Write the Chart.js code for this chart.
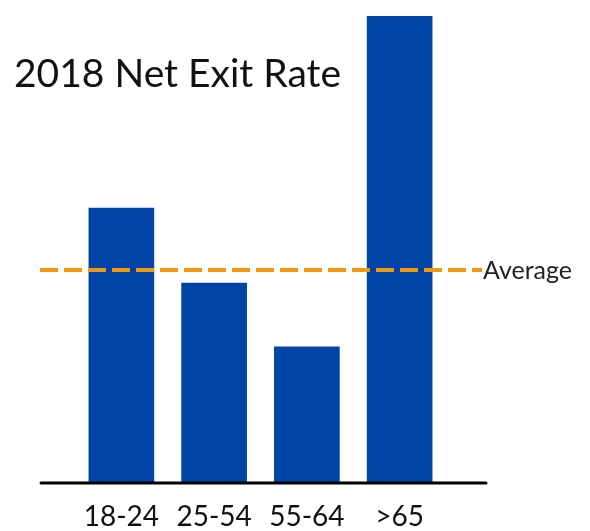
<!DOCTYPE html>
<html>
<head>
<meta charset="utf-8">
<script src="https://cdn.jsdelivr.net/npm/chart.js@4/dist/chart.umd.min.js"></script>
<style>
  html, body { margin: 0; padding: 0; background: #fff; }
  #wrap { width: 590px; height: 531px; position: relative; }
</style>
</head>
<body>
<div id="wrap"><canvas id="exitChart"></canvas></div>
<script>
// Net exit rate by age group
const ageGroups = ['18-24', '25-54', '55-64', '>65'];
const exitRates = [5.88, 4.27, 2.9, 10];
const averageRate = 4.55;
const chartTitle = '2018 Net Exit Rate';

const fontFamily = 'Lato, "Noto Sans", sans-serif';

// Title, zero line and dashed average line drawn on top of the bars
const overlayPlugin = {
  id: 'overlay',
  afterDatasetsDraw(chart) {
    const ctx = chart.ctx;
    const area = chart.chartArea;
    const y = chart.scales.y;

    ctx.save();

    // baseline at zero
    const y0 = y.getPixelForValue(0) + 1;
    ctx.strokeStyle = '#000';
    ctx.lineWidth = 3;
    ctx.lineCap = 'round';
    ctx.beginPath();
    ctx.moveTo(area.left - 34, y0);
    ctx.lineTo(area.right + 40, y0);
    ctx.stroke();

    // average line
    const yAvg = y.getPixelForValue(averageRate);
    ctx.strokeStyle = '#f0960f';
    ctx.lineWidth = 4;
    ctx.lineCap = 'butt';
    ctx.setLineDash([18, 6]);
    ctx.beginPath();
    ctx.moveTo(area.left - 35, yAvg);
    ctx.lineTo(area.right + 36, yAvg);
    ctx.stroke();
    ctx.setLineDash([]);

    ctx.fillStyle = '#222';
    ctx.font = '25px ' + fontFamily;
    ctx.textBaseline = 'middle';
    ctx.textAlign = 'left';
    ctx.fillText('Average', area.right + 37, yAvg + 1);

    // title
    ctx.fillStyle = '#111';
    ctx.font = '39px ' + fontFamily;
    ctx.textBaseline = 'alphabetic';
    ctx.fillText(chartTitle, 14, 87);

    ctx.restore();
  }
};

const ctx = document.getElementById('exitChart').getContext('2d');
new Chart(ctx, {
  type: 'bar',
  data: {
    labels: ageGroups,
    datasets: [{
      data: exitRates,
      backgroundColor: '#0045a5',
      borderWidth: 0,
      barThickness: 65,
      categoryPercentage: 1
    }]
  },
  options: {
    responsive: true,
    maintainAspectRatio: false,
    animation: false,
    layout: {
      padding: { left: 75, right: 144, top: 16, bottom: 0 }
    },
    plugins: {
      legend: { display: false },
      tooltip: { enabled: false }
    },
    scales: {
      x: {
        grid: { display: false, drawTicks: false },
        border: { display: false },
        ticks: {
          color: '#111',
          padding: 21,
          font: { family: fontFamily, size: 28, lineHeight: 1 }
        },
        // keep the label strip tight so the bars reach down to the baseline
        afterFit(scale) {
          scale.height = 49;
        }
      },
      y: {
        display: false,
        min: 0,
        max: 10
      }
    }
  },
  plugins: [overlayPlugin]
});
</script>
</body>
</html>
